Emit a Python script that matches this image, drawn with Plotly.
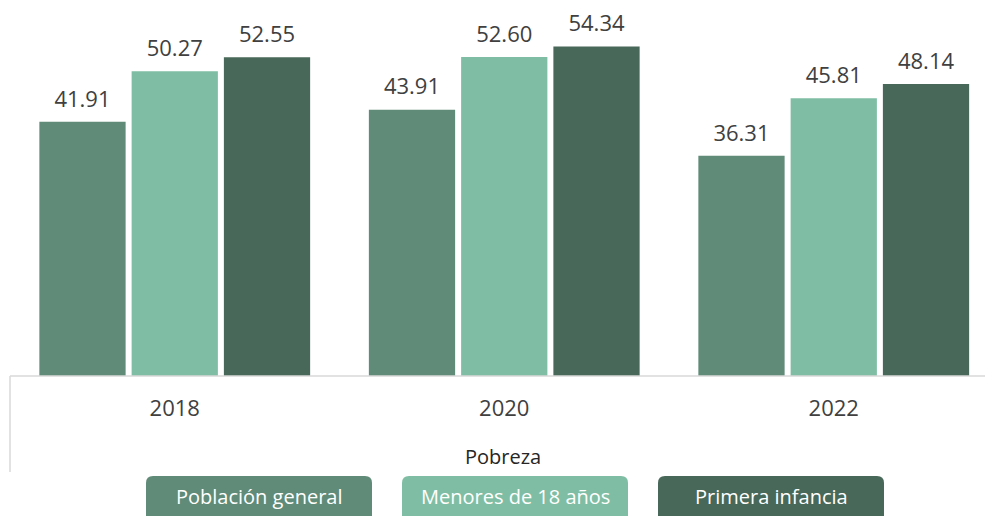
import plotly.graph_objects as go

years = ['2018', '2020', '2022']
series_names = ['Población general', 'Menores de 18 años', 'Primera infancia']
poblacion_general = [41.91, 43.91, 36.31]
menores_18 = [50.27, 52.60, 45.81]
primera_infancia = [52.55, 54.34, 48.14]
x_title = 'Pobreza'

colors = ['#608B78', '#7FBEA4', '#486859']
txt_color = '#404040'
font_fam = 'Open Sans, Noto Sans, sans-serif'

# plot area in pixels (used for the custom legend boxes)
W, H = 985, 516
ML, MR, MT, MB = 10, 0, 0, 140
PW, PH = W - ML - MR, H - MT - MB

fig = go.Figure()
all_vals = [poblacion_general, menores_18, primera_infancia]
for i, (name, vals) in enumerate(zip(series_names, all_vals)):
    fig.add_trace(go.Bar(
        x=years, y=vals, name=name, offsetgroup=str(i), alignmentgroup='a',
        marker=dict(color=colors[i], line=dict(width=0)), showlegend=False
    ))
    # etiquetas de valor encima de cada barra
    fig.add_trace(go.Scatter(
        x=years, y=vals, mode='markers+text', offsetgroup=str(i), alignmentgroup='a',
        text=['%.2f' % v for v in vals], textposition='top center',
        marker=dict(size=14, opacity=0), cliponaxis=False,
        textfont=dict(size=22, color=txt_color, family=font_fam),
        showlegend=False, hoverinfo='skip'
    ))

shapes = [
    # linea base del eje
    dict(type='line', xref='paper', yref='paper', x0=0, x1=1, y0=0, y1=0,
         line=dict(color='#D9D9D9', width=1.5)),
    # linea vertical izquierda bajo el eje
    dict(type='line', xref='paper', yref='paper', x0=0, x1=0, y0=0, y1=-96 / PH,
         line=dict(color='#D9D9D9', width=1.5)),
]

# leyenda hecha a mano: cajas redondeadas con texto blanco
box_left = [146, 402, 658]
box_w, box_top, r = 226, 476, 7
annotations = []
for i, name in enumerate(series_names):
    x0 = box_left[i] - ML
    x1 = x0 + box_w
    yt = -(box_top - PH)  # pixels above plot bottom (negative)
    yb = yt - 60
    path = (f'M {x0},{yb} L {x0},{yt - r} Q {x0},{yt} {x0 + r},{yt} '
            f'L {x1 - r},{yt} Q {x1},{yt} {x1},{yt - r} L {x1},{yb} Z')
    shapes.append(dict(type='path', xref='paper', yref='paper',
                       xsizemode='pixel', ysizemode='pixel', xanchor=0, yanchor=0,
                       path=path, fillcolor=colors[i], line=dict(width=0)))
    annotations.append(dict(
        text=name, xref='paper', yref='paper',
        x=(box_left[i] + box_w / 2 - ML) / PW, y=(PH - 497) / PH,
        xanchor='center', yanchor='middle', showarrow=False,
        font=dict(size=20, color='white', family=font_fam)
    ))

annotations.append(dict(
    text=x_title, xref='paper', yref='paper', x=(503 - ML) / PW, y=(PH - 456) / PH,
    xanchor='center', yanchor='middle', showarrow=False,
    font=dict(size=20, color='#262626', family=font_fam)
))

fig.update_layout(
    width=W, height=H,
    margin=dict(l=ML, r=MR, t=MT, b=MB),
    barmode='group', scattermode='group', bargap=0.16, bargroupgap=0.065,
    paper_bgcolor='white', plot_bgcolor='white',
    font=dict(family=font_fam, color=txt_color),
    xaxis=dict(type='category', range=[-0.5, -0.5 + PW / 329.5],
               showline=False, showgrid=False, ticks='outside', ticklen=13,
               tickcolor='rgba(0,0,0,0)', tickfont=dict(size=22, color=txt_color)),
    yaxis=dict(range=[0, 62], visible=False, showgrid=False),
    shapes=shapes, annotations=annotations, showlegend=False
)

# quitar el margen del body para que la figura empiece en (0, 0)
fig.write_html('out.html', config={'displayModeBar': False},
               post_script="document.body.style.margin='0';document.body.style.overflow='hidden';")
